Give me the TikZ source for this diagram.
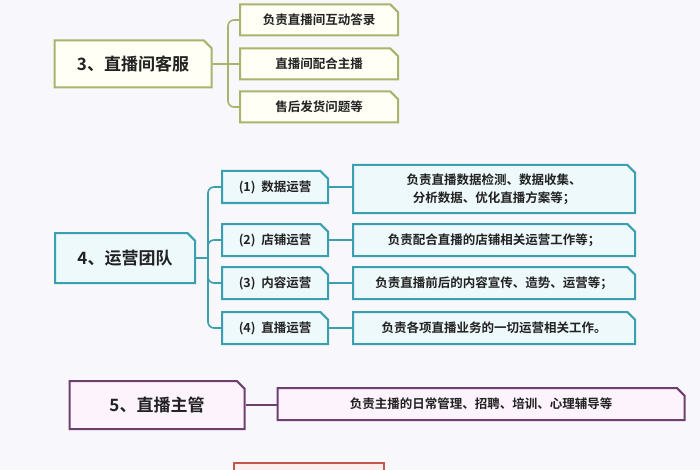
\documentclass[tikz,border=0pt]{standalone}
\usepackage{fontspec}
\setmainfont{Noto Sans CJK SC}[BoldFont={Noto Sans CJK SC Bold}]
\usetikzlibrary{positioning,shapes.misc}
\definecolor{olive}{HTML}{A8B46C}
\definecolor{ivory}{HTML}{FFFFF6}
\definecolor{teal}{HTML}{3A9FAE}
\definecolor{icecyan}{HTML}{EEF9FB}
\definecolor{plum}{HTML}{6E3F6E}
\definecolor{lilac}{HTML}{FCF3FC}
\definecolor{brick}{HTML}{C0584C}
\definecolor{blush}{HTML}{FDEEEE}
\definecolor{ink}{HTML}{222222}
\definecolor{paper}{HTML}{F8F8FC}
\tikzset{%
  card/.style  = {chamfered rectangle, chamfered rectangle corners=north east,
    chamfered rectangle xsep=4pt, line width=2pt, inner sep=0pt, text=ink,
    font=\bfseries, align=center},
  head/.style  = {card, font=\bfseries\fontsize{17}{20}\selectfont},
  leaf/.style  = {card, font=\bfseries\fontsize{12.5}{18}\selectfont},
  green/.style = {draw=olive, fill=ivory},
  cyan/.style  = {draw=teal, fill=icecyan},
  purple/.style= {draw=plum, fill=lilac},
  link/.style  = {line width=1.6pt, rounded corners=6pt}
}
\begin{document}
\begin{tikzpicture}[x=1pt, y=-1pt]
  \useasboundingbox (0,0) rectangle (700,470);
  \fill[paper] (0,0) rectangle (700,470);
  \clip (0,0) rectangle (700,470);

  % 3
  \node[head, green, minimum width=157pt, minimum height=47pt] (kefu) at (133,64) {3、直播间客服};
  \node[leaf, green, minimum width=158pt, minimum height=31pt] (k1) at (319,20) {负责直播间互动答录};
  \node[leaf, green, minimum width=158pt, minimum height=31pt] (k2) at (319,64) {直播间配合主播};
  \node[leaf, green, minimum width=158pt, minimum height=31pt] (k3) at (319,107) {售后发货问题等};
  \coordinate (kj) at (228,64);
  \draw[link, olive] (kefu) -- (k2);
  \draw[link, olive] (k1.west) -| (kj) |- (k3.west);

  % 4
  \node[head, cyan, minimum width=140pt, minimum height=50pt] (yunying) at (125,258) {4、运营团队};
  \foreach \i/\y/\t in {1/187/数据运营, 2/240/店铺运营, 3/283/内容运营, 4/328/直播运营}
    \node[leaf, cyan, minimum width=106pt, minimum height=32pt] (y\i) at (275,\y) {(\i)\ \ \t};
  \node[leaf, cyan, minimum width=282pt, minimum height=48pt] (d1) at (494,189)
    {负责直播数据检测、数据收集、\\分析数据、优化直播方案等；};
  \node[leaf, cyan, minimum width=282pt, minimum height=32pt] (d2) at (494,240) {负责配合直播的店铺相关运营工作等；};
  \node[leaf, cyan, minimum width=282pt, minimum height=32pt] (d3) at (494,283) {负责直播前后的内容宣传、造势、运营等；};
  \node[leaf, cyan, minimum width=282pt, minimum height=32pt] (d4) at (494,328) {负责各项直播业务的一切运营相关工作。};
  \coordinate (yj) at (208,258);
  \draw[link, teal] (yunying.east) -- (yj);
  \draw[link, teal] (y1.west) -| (yj) |- (y4.west);
  \draw[link, teal] (y2.west) -| (yj) |- (y3.west);
  \foreach \i in {1,...,4}
    \draw[link, teal] (y\i.east) -- (y\i.east -| d\i.west);

  % 5
  \node[head, purple, minimum width=175pt, minimum height=48pt] (zhuguan) at (157,405) {5、直播主管};
  \node[leaf, purple, minimum width=407pt, minimum height=32pt] (z1) at (481,404) {负责主播的日常管理、招聘、培训、心理辅导等};
  \draw[link, plum] (zhuguan.east) -- (zhuguan.east -| z1.west);

  % next
  \node[card, draw=brick, fill=blush, minimum width=150pt, minimum height=48pt] (next) at (309,487) {};
\end{tikzpicture}
\end{document}
